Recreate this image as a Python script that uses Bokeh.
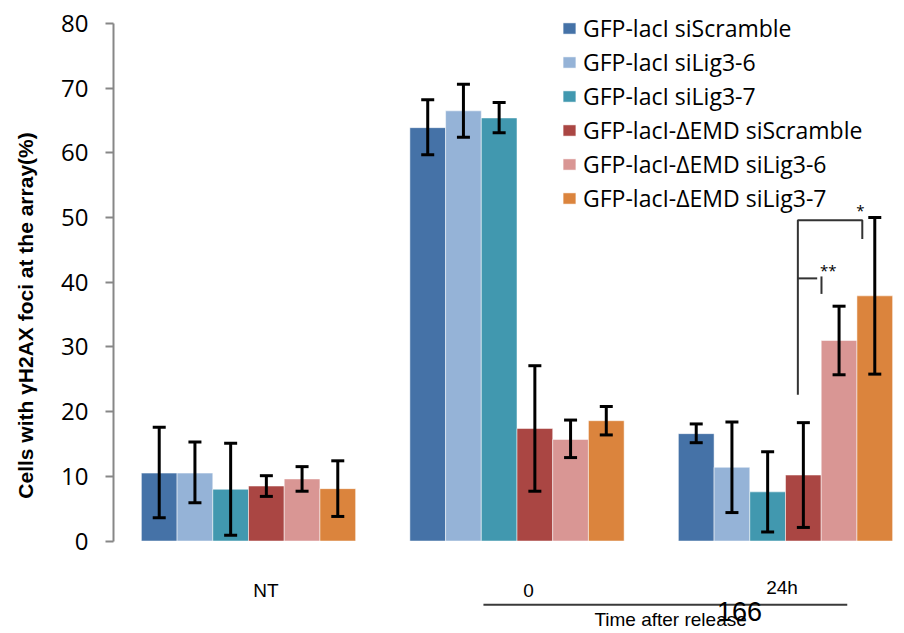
from bokeh.plotting import figure
from bokeh.models import (ColumnDataSource, Range1d, Whisker, TeeHead, Legend, LegendItem,
                          FixedTicker, Label, LinearAxis)
from bokeh.core.properties import value
from bokeh.embed import file_html
from bokeh.resources import INLINE

# ---------------- data ----------------
groups = ["NT", "0", "24h"]
series_labels = [
    "GFP-lacI siScramble",
    "GFP-lacI siLig3-6",
    "GFP-lacI siLig3-7",
    "GFP-lacI-\u0394EMD siScramble",
    "GFP-lacI-\u0394EMD siLig3-6",
    "GFP-lacI-\u0394EMD siLig3-7",
]
colors = ["#4572A7", "#95B3D7", "#4198AF", "#AA4643", "#D99694", "#DB843D"]

means = [
    [10.5, 63.9, 16.6],
    [10.5, 66.5, 11.4],
    [8.0, 65.4, 7.6],
    [8.5, 17.4, 10.2],
    [9.6, 15.7, 31.0],
    [8.1, 18.6, 37.9],
]
err_upper = [
    [17.6, 68.2, 18.1],
    [15.3, 70.6, 18.4],
    [15.1, 67.8, 13.8],
    [10.1, 27.1, 18.3],
    [11.5, 18.7, 36.3],
    [12.4, 20.8, 50.0],
]
err_lower = [
    [3.6, 59.7, 15.2],
    [5.9, 62.4, 4.4],
    [0.9, 63.1, 1.4],
    [6.9, 7.7, 2.1],
    [7.7, 12.9, 25.7],
    [3.8, 16.4, 25.8],
]
y_ticks = [0, 10, 20, 30, 40, 50, 60, 70, 80]
y_title = "Cells with \u03b3H2AX foci at the array(%)"
x_title = "Time after release"
page_number = "166"

# significance annotations (data coords)
bracket_star1_xs = [2.046, 2.046, 2.286, 2.286]
bracket_star1_ys = [22.6, 49.6, 49.6, 46.7]
bracket_star2_xs = [2.046, 2.118]
bracket_star2_ys = [40.6, 40.6]
tick_star2_xs = [2.134, 2.134]
tick_star2_ys = [40.9, 38.2]

# ---------------- figure ----------------
BAR_W = 0.133
p = figure(width=900, height=630, output_backend="svg", toolbar_location=None,
           x_range=Range1d(-0.5028, 2.4283), y_range=Range1d(-13.83, 83.555),
           x_axis_type=None, min_border_left=113, min_border_right=0,
           min_border_top=0, min_border_bottom=0)
p.outline_line_color = None
p.xgrid.visible = False
p.ygrid.visible = False
p.background_fill_color = "white"
p.border_fill_color = "white"

yax = p.yaxis[0]
yax.bounds = (0, 80)
yax.ticker = FixedTicker(ticks=y_ticks)
yax.minor_tick_line_color = None
yax.major_tick_in = 0
yax.major_tick_out = 8
yax.major_tick_line_color = "#878787"
yax.major_tick_line_width = 2
yax.axis_line_color = "#878787"
yax.axis_line_width = 2
yax.major_label_text_font = "Open Sans"
yax.major_label_text_font_size = "24px"
yax.major_label_text_color = "black"
yax.major_label_standoff = 17

# separate (invisible) axis carrying the title, centred like the reference
tax = LinearAxis(ticker=FixedTicker(ticks=[]), bounds=(-6.0, 80), axis_label=y_title,
                 axis_line_color=None, major_tick_line_color=None,
                 minor_tick_line_color=None, major_tick_out=0, major_tick_in=0,
                 major_label_standoff=0, axis_label_standoff=22,
                 axis_label_text_font="Liberation Sans", axis_label_text_font_style="bold",
                 axis_label_text_font_size="21px", axis_label_text_color="black")
p.add_layout(tax, "left")

legend_items = []
for si, lab in enumerate(series_labels):
    xs = [gi + (si - 2.5) * BAR_W for gi in range(len(groups))]
    src = ColumnDataSource(dict(x=xs, top=means[si], upper=err_upper[si], lower=err_lower[si]))
    r = p.vbar(x="x", top="top", bottom=0, width=BAR_W, source=src,
               fill_color=colors[si], line_color="white", line_alpha=0.5, line_width=1)
    legend_items.append(LegendItem(label=lab, renderers=[r]))
    w = Whisker(base="x", upper="upper", lower="lower", source=src, level="overlay",
                line_color="black", line_width=3,
                upper_head=TeeHead(size=13, line_color="black", line_width=3),
                lower_head=TeeHead(size=13, line_color="black", line_width=3))
    p.add_layout(w)

# significance brackets
p.line(bracket_star1_xs, bracket_star1_ys, line_color="#333333", line_width=2)
p.line(bracket_star2_xs, bracket_star2_ys, line_color="#333333", line_width=2)
p.line(tick_star2_xs, tick_star2_ys, line_color="#333333", line_width=2)
p.text(x=[2.279, 2.159], y=[51.1, 41.9], text=["*", "**"], text_font=value("Open Sans"),
       text_font_size="15px", text_align="center", text_baseline="alphabetic", text_color="black")

# category labels
cat_x = [0.065, 1.043, 1.987]
cat_y = [-7.65, -7.65, -7.13]
p.text(x=cat_x, y=cat_y, text=groups, text_font=value("Liberation Sans"), text_font_size="19px",
       text_align="center", text_baseline="middle", text_color="black")

# time bracket line
p.line([0.875, 2.23], [-9.86, -9.86], line_color="#3a3a3a", line_width=2)
p.add_layout(Label(x=1.572, y=-12.1, text=x_title, text_font="Liberation Sans",
                   text_font_size="19px", text_align="center", text_baseline="middle",
                   text_color="black"))
p.add_layout(Label(x=1.829, y=-10.9, text=page_number, text_font="Liberation Sans",
                   text_font_size="27px", text_align="center", text_baseline="middle",
                   text_color="black"))

legend = Legend(items=legend_items, location=(448, 416), orientation="vertical",
                label_text_font="Open Sans", label_text_font_size="23px",
                label_text_color="black", glyph_width=16, glyph_height=14,
                label_standoff=6, spacing=2, padding=0, margin=0,
                border_line_alpha=0, background_fill_alpha=0)
p.add_layout(legend)

open("out.html", "w").write(file_html(p, INLINE))
